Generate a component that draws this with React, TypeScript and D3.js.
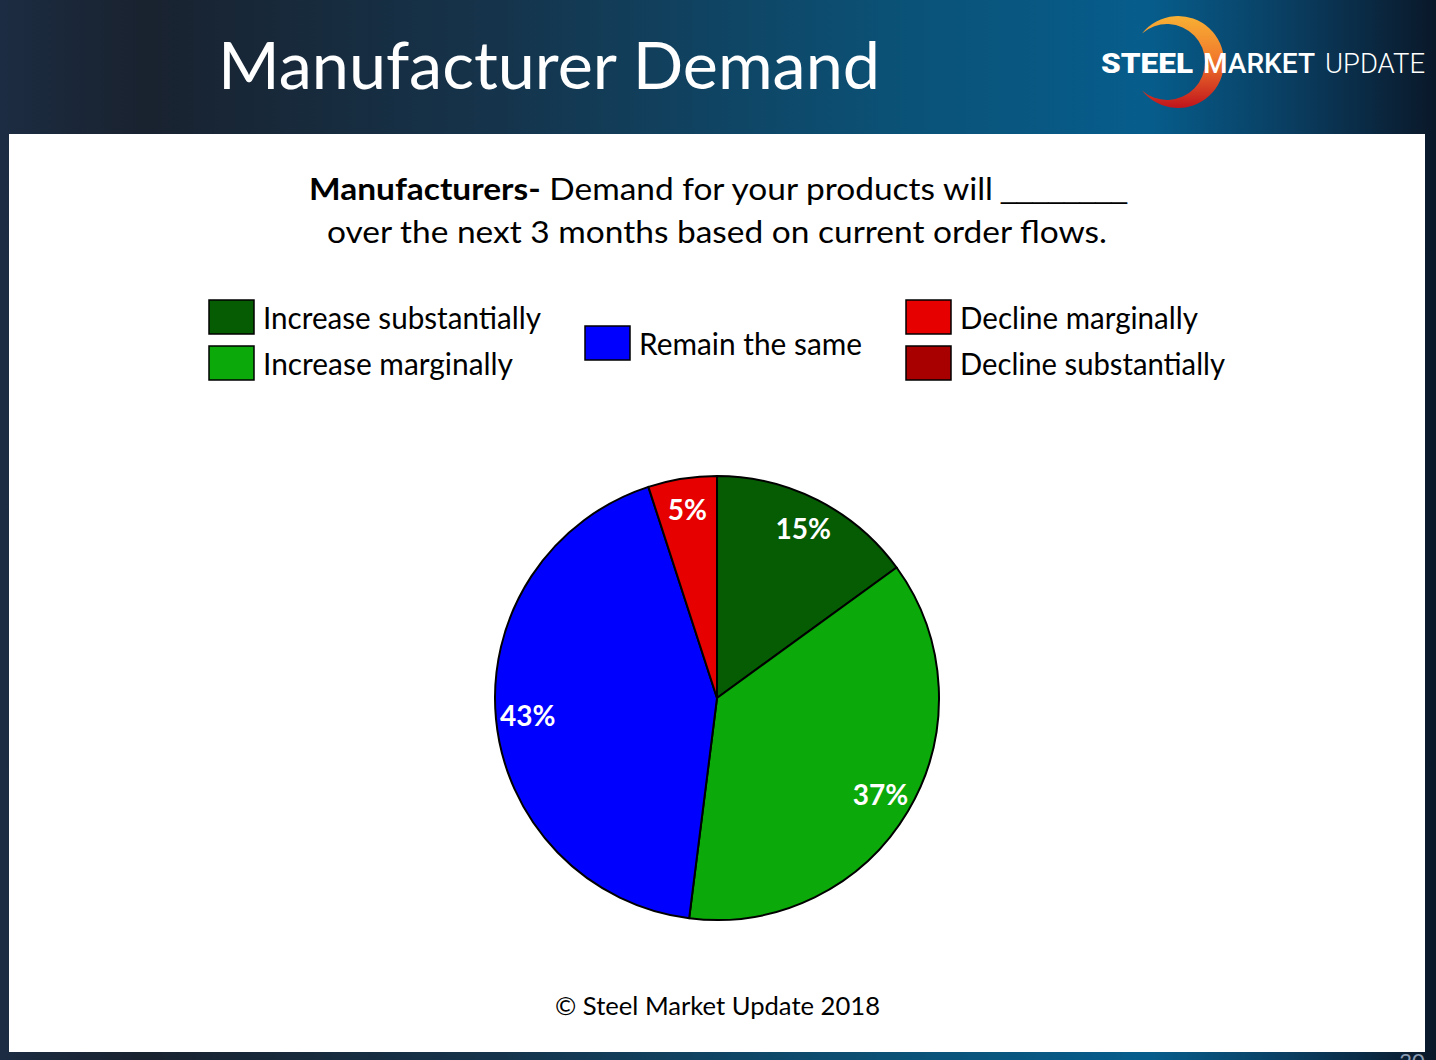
import { useEffect, useRef } from 'react';
import * as d3 from 'd3';

// Survey answers, clockwise from 12 o'clock
const categories = [
    'Increase substantially',
    'Increase marginally',
    'Remain the same',
    'Decline marginally',
    'Decline substantially',
];
const shares = [15, 37, 43, 5, 0];
const sliceColors = ['#055c03', '#0ba909', '#0000ff', '#e60000', '#a80000'];

const titleText = 'Manufacturer Demand';
const questionBold = 'Manufacturers-';
const questionRest = ' Demand for your products will';
const questionLine2 = 'over the next 3 months based on current order flows.';
const footerText = '\u00a9 Steel Market Update 2018';

const W = 1436;
const H = 1060;
const font = 'Lato, "Open Sans", sans-serif';

export default function App() {
    const svgRef = useRef<SVGSVGElement>(null);

    useEffect(() => {
        if (!svgRef.current) return;
        const svg = d3.select(svgRef.current);
        svg.selectAll('*').remove();

        const defs = svg.append('defs');

        // header / frame gradient
        const bg = defs.append('linearGradient').attr('id', 'bg').attr('x1', 0).attr('x2', 1).attr('y1', 0).attr('y2', 0);
        [
            [0, '#1c2c42'],
            [0.1, '#19222f'],
            [0.35, '#15344c'],
            [0.62, '#0b5176'],
            [0.8, '#065d8c'],
            [0.9, '#0a3d60'],
            [1, '#0a1829'],
        ].forEach(([o, c]) => bg.append('stop').attr('offset', o as number).attr('stop-color', c as string));

        const ring = defs.append('linearGradient').attr('id', 'ring').attr('x1', 0).attr('x2', 0).attr('y1', 0).attr('y2', 1);
        [
            [0, '#f7b034'],
            [0.45, '#f27c2c'],
            [1, '#c0141c'],
        ].forEach(([o, c]) => ring.append('stop').attr('offset', o as number).attr('stop-color', c as string));

        svg.append('rect').attr('width', W).attr('height', H).attr('fill', 'url(#bg)');

        // white slide body
        svg.append('rect')
            .attr('x', 9).attr('y', 134)
            .attr('width', 1416).attr('height', 918)
            .attr('fill', '#ffffff');

        // title
        svg.append('text')
            .attr('x', 218).attr('y', 89)
            .attr('fill', '#ffffff')
            .attr('font-family', font)
            .attr('font-size', 65)
            .attr('textLength', 662)
            .attr('lengthAdjust', 'spacingAndGlyphs')
            .text(titleText);

        // logo: crescent + wordmark
        const cx1 = 1178, cy1 = 62, r1 = 46;
        const cx2 = 1167, r2 = 38;
        const d = cx1 - cx2;
        const a = (r1 * r1 - r2 * r2 + d * d) / (2 * d);
        const h = Math.sqrt(r1 * r1 - a * a);
        const tipX = cx1 - a;
        const crescent = d3.path();
        crescent.moveTo(tipX, cy1 - h);
        const angTop1 = Math.atan2(-h, tipX - cx1);
        const angBot1 = Math.atan2(h, tipX - cx1);
        crescent.arc(cx1, cy1, r1, angTop1, angBot1, false);
        const angBot2 = Math.atan2(h, tipX - cx2);
        const angTop2 = Math.atan2(-h, tipX - cx2);
        crescent.arc(cx2, cy1, r2, angBot2, angTop2, true);
        crescent.closePath();
        svg.append('path').attr('d', crescent.toString()).attr('fill', 'url(#ring)');

        const logoFont = 'Roboto, "Liberation Sans", sans-serif';
        const logo = [
            { t: 'STEEL', x: 1101, w: 92, wt: 900 },
            { t: 'MARKET', x: 1203, w: 112, wt: 500 },
            { t: 'UPDATE', x: 1325, w: 100, wt: 300 },
        ];
        logo.forEach(l => {
            svg.append('text')
                .attr('x', l.x).attr('y', 73)
                .attr('fill', '#ffffff')
                .attr('font-family', logoFont)
                .attr('font-weight', l.wt)
                .attr('font-size', 27)
                .attr('textLength', l.w)
                .attr('lengthAdjust', 'spacingAndGlyphs')
                .text(l.t);
        });

        // question text
        const q1 = svg.append('text')
            .attr('x', 309).attr('y', 200)
            .attr('fill', '#000000')
            .attr('font-family', font)
            .attr('font-size', 31)
            .attr('textLength', 684)
            .attr('lengthAdjust', 'spacingAndGlyphs');
        q1.append('tspan').attr('font-weight', 700).text(questionBold);
        q1.append('tspan').text(questionRest);

        svg.append('text')
            .attr('x', 1001).attr('y', 199)
            .attr('fill', '#000000')
            .attr('font-family', '"Liberation Sans", sans-serif')
            .attr('font-size', 26)
            .attr('textLength', 126)
            .attr('lengthAdjust', 'spacingAndGlyphs')
            .text('________');

        svg.append('text')
            .attr('x', 327).attr('y', 243)
            .attr('fill', '#000000')
            .attr('font-family', font)
            .attr('font-size', 31)
            .attr('textLength', 780)
            .attr('lengthAdjust', 'spacingAndGlyphs')
            .text(questionLine2);

        // legend
        const legendPos = [
            { x: 209, y: 300, tw: 278 },
            { x: 209, y: 346, tw: 250 },
            { x: 585, y: 326, tw: 223 },
            { x: 906, y: 300, tw: 238 },
            { x: 906, y: 346, tw: 265 },
        ];
        categories.forEach((c, i) => {
            const p = legendPos[i];
            svg.append('rect')
                .attr('x', p.x).attr('y', p.y)
                .attr('width', 45).attr('height', 34)
                .attr('fill', sliceColors[i])
                .attr('stroke', '#000000')
                .attr('stroke-width', 1.5);
            svg.append('text')
                .attr('x', p.x + 54).attr('y', p.y + 29)
                .attr('fill', '#000000')
                .attr('font-family', font)
                .attr('font-size', 30)
                .attr('textLength', p.tw)
                .attr('lengthAdjust', 'spacingAndGlyphs')
                .text(c);
        });

        // pie
        const pcx = 717, pcy = 698, radius = 222;
        const pie = d3.pie<number>().sort(null).value(v => v);
        const arcs = pie(shares);
        const arc = d3.arc<d3.PieArcDatum<number>>().innerRadius(0).outerRadius(radius);
        const labelArc = d3.arc<d3.PieArcDatum<number>>().innerRadius(190).outerRadius(190);

        const g = svg.append('g').attr('transform', `translate(${pcx},${pcy})`);
        g.selectAll('path.slice')
            .data(arcs.filter(a => a.value > 0))
            .enter()
            .append('path')
            .attr('class', 'slice')
            .attr('d', arc)
            .attr('fill', d => sliceColors[d.index])
            .attr('stroke', '#000000')
            .attr('stroke-width', 2)
            .attr('stroke-linejoin', 'round');

        g.selectAll('text.lbl')
            .data(arcs.filter(a => a.value > 0))
            .enter()
            .append('text')
            .attr('class', 'lbl')
            .attr('transform', d => `translate(${labelArc.centroid(d)})`)
            .attr('text-anchor', 'middle')
            .attr('dy', '0.36em')
            .attr('fill', '#ffffff')
            .attr('font-family', font)
            .attr('font-weight', 700)
            .attr('font-size', 28)
            .text(d => `${d.value}%`);

        // footer
        svg.append('text')
            .attr('x', 555).attr('y', 1015)
            .attr('fill', '#000000')
            .attr('font-family', font)
            .attr('font-size', 25.5)
            .attr('textLength', 325)
            .attr('lengthAdjust', 'spacingAndGlyphs')
            .text(footerText);

        // slide number (cut off by the page edge)
        svg.append('text')
            .attr('x', 1412).attr('y', 1069)
            .attr('text-anchor', 'middle')
            .attr('fill', '#8a9cb2')
            .attr('font-family', font)
            .attr('font-size', 22)
            .text('20');
    }, []);

    return (
        <div style={{ width: W, height: H, overflow: 'hidden' }}>
            <style>{'body{margin:0;}'}</style>
            <svg ref={svgRef} width={W} height={H} style={{ display: 'block' }} />
        </div>
    );
}
